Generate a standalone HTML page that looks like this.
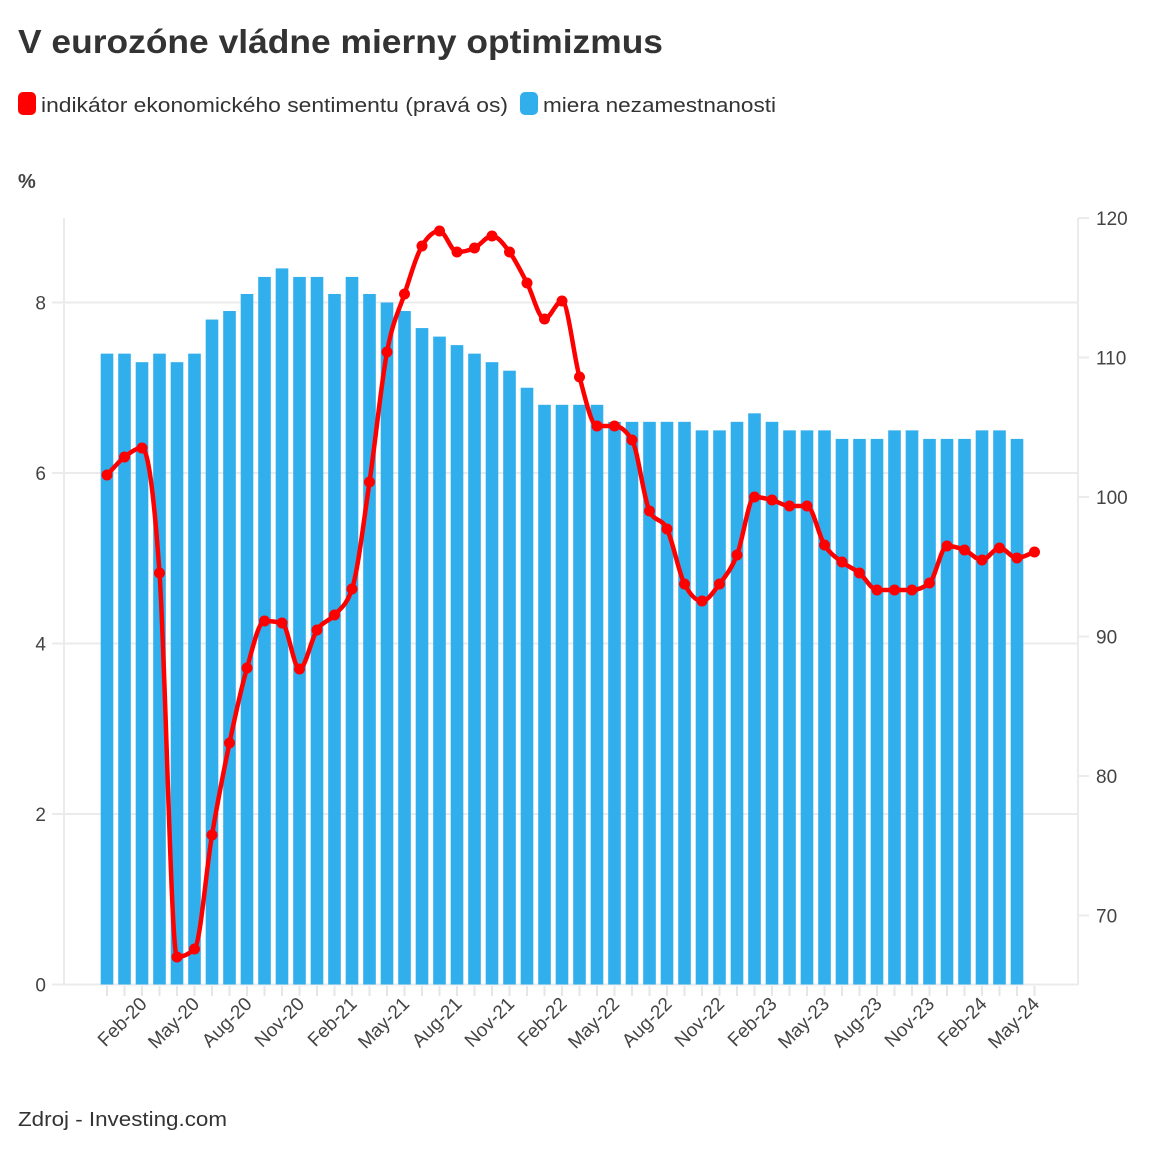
<!DOCTYPE html>
<html><head><meta charset="utf-8"><style>
html,body{margin:0;padding:0;background:#fff;}
svg{display:block;font-family:"Liberation Sans",sans-serif;}
</style></head><body>
<svg id="s" width="1150" height="1150" viewBox="0 0 1150 1150" xmlns="http://www.w3.org/2000/svg">
<text x="18" y="53" font-size="33" font-weight="bold" fill="#333" textLength="645" lengthAdjust="spacingAndGlyphs">V eurozóne vládne mierny optimizmus</text>
<rect x="18" y="92" width="18" height="23" rx="5" fill="#ff0000"/>
<text x="41" y="112" font-size="20" fill="#333" textLength="467" lengthAdjust="spacingAndGlyphs">indikátor ekonomického sentimentu (pravá os)</text>
<rect x="520" y="92" width="18" height="23" rx="5" fill="#31aeec"/>
<text x="543" y="112" font-size="20" fill="#333" textLength="233" lengthAdjust="spacingAndGlyphs">miera nezamestnanosti</text>
<text x="18" y="188" font-size="20" font-weight="bold" fill="#444">%</text>
<text x="18" y="1126" font-size="20" fill="#333" textLength="209" lengthAdjust="spacingAndGlyphs">Zdroj - Investing.com</text>
<g id="g"></g>
</svg>
<script>
var g=document.getElementById('g'),h='';
[0,2,4,6,8].forEach(function(v){var y=984.5-v*85.25;
h+='<line x1="52" x2="1078" y1="'+y+'" y2="'+y+'" stroke="#ebebeb" stroke-width="2"/>';
h+='<text x="46" y="'+(y+7)+'" font-size="19" fill="#444" text-anchor="end">'+v+'</text>';});
h+='<line x1="64" x2="64" y1="218" y2="985" stroke="#ebebeb" stroke-width="2"/>';
h+='<line x1="1078" x2="1078" y1="218" y2="985" stroke="#ebebeb" stroke-width="2"/>';
[120,110,100,90,80,70].forEach(function(v){var y=218+(120-v)*13.95;
h+='<line x1="1078" x2="1089" y1="'+y+'" y2="'+y+'" stroke="#ebebeb" stroke-width="2"/>';
h+='<text x="1096" y="'+(y+7)+'" font-size="19" fill="#444">'+v+'</text>';});
var b=[7.4,7.4,7.3,7.4,7.3,7.4,7.8,7.9,8.1,8.3,8.4,8.3,8.3,8.1,8.3,8.1,8.0,7.9,7.7,7.6,7.5,7.4,7.3,7.2,7.0,6.8,6.8,6.8,6.8,6.6,6.6,6.6,6.6,6.6,6.5,6.5,6.6,6.7,6.6,6.5,6.5,6.5,6.4,6.4,6.4,6.5,6.5,6.4,6.4,6.4,6.5,6.5,6.4];
for(var i=0;i<54;i++){var x=107+17.5*i;
h+='<line x1="'+x+'" x2="'+x+'" y1="986" y2="996" stroke="#e6e6e6" stroke-width="2"/>';}
b.forEach(function(v,i){var x=107+17.5*i,y=984.5-v*85.25;
h+='<rect x="'+(x-6.3)+'" y="'+y+'" width="12.6" height="'+(984.5-y)+'" fill="#31aeec"/>';});
var m=['Feb','May','Aug','Nov'];
for(var k=0;k<18;k++){var i=2+3*k,x=107+17.5*i;var lab=m[k%4]+'-'+(20+Math.floor(k/4));
h+='<text transform="translate('+(x+6)+',1005) rotate(-45)" font-size="19" fill="#444" text-anchor="end">'+lab+'</text>';}
var ys=[475,457,448,573,957,949,835,743,668,621,623,669,630,615,589,482,352,294,246,231,252,248,236,252,283,319,301,377,426,426,440,511,529,584,601,584,555,497,500,506,506,545,562,573,590,590,590,583,546,550,560,548,558,552];
var n=ys.length,dx=17.5,s=[],t=[];
for(var i=0;i<n-1;i++)s.push((ys[i+1]-ys[i])/dx);
for(var i=0;i<n;i++){
 if(i==0)t.push(s[0]);else if(i==n-1)t.push(s[n-2]);
 else{var a=s[i-1],c=s[i];
  if(a*c<=0)t.push(0);
  else{var p=(a+c)/2;t.push((Math.sign(a)+Math.sign(c))*Math.min(Math.abs(a),Math.abs(c),0.5*Math.abs(p))||0);}}}
var d='M107,'+ys[0];
for(var i=0;i<n-1;i++){var x0=107+dx*i,x1=x0+dx;
d+=' C'+(x0+dx/3)+','+(ys[i]+t[i]*dx/3)+' '+(x1-dx/3)+','+(ys[i+1]-t[i+1]*dx/3)+' '+x1+','+ys[i+1];}
h+='<path d="'+d+'" fill="none" stroke="#ff0000" stroke-width="4.5" stroke-linejoin="round"/>';
ys.forEach(function(y,i){h+='<circle cx="'+(107+dx*i)+'" cy="'+y+'" r="5.5" fill="#ff0000"/>';});
g.innerHTML=h;
</script>
</body></html>
